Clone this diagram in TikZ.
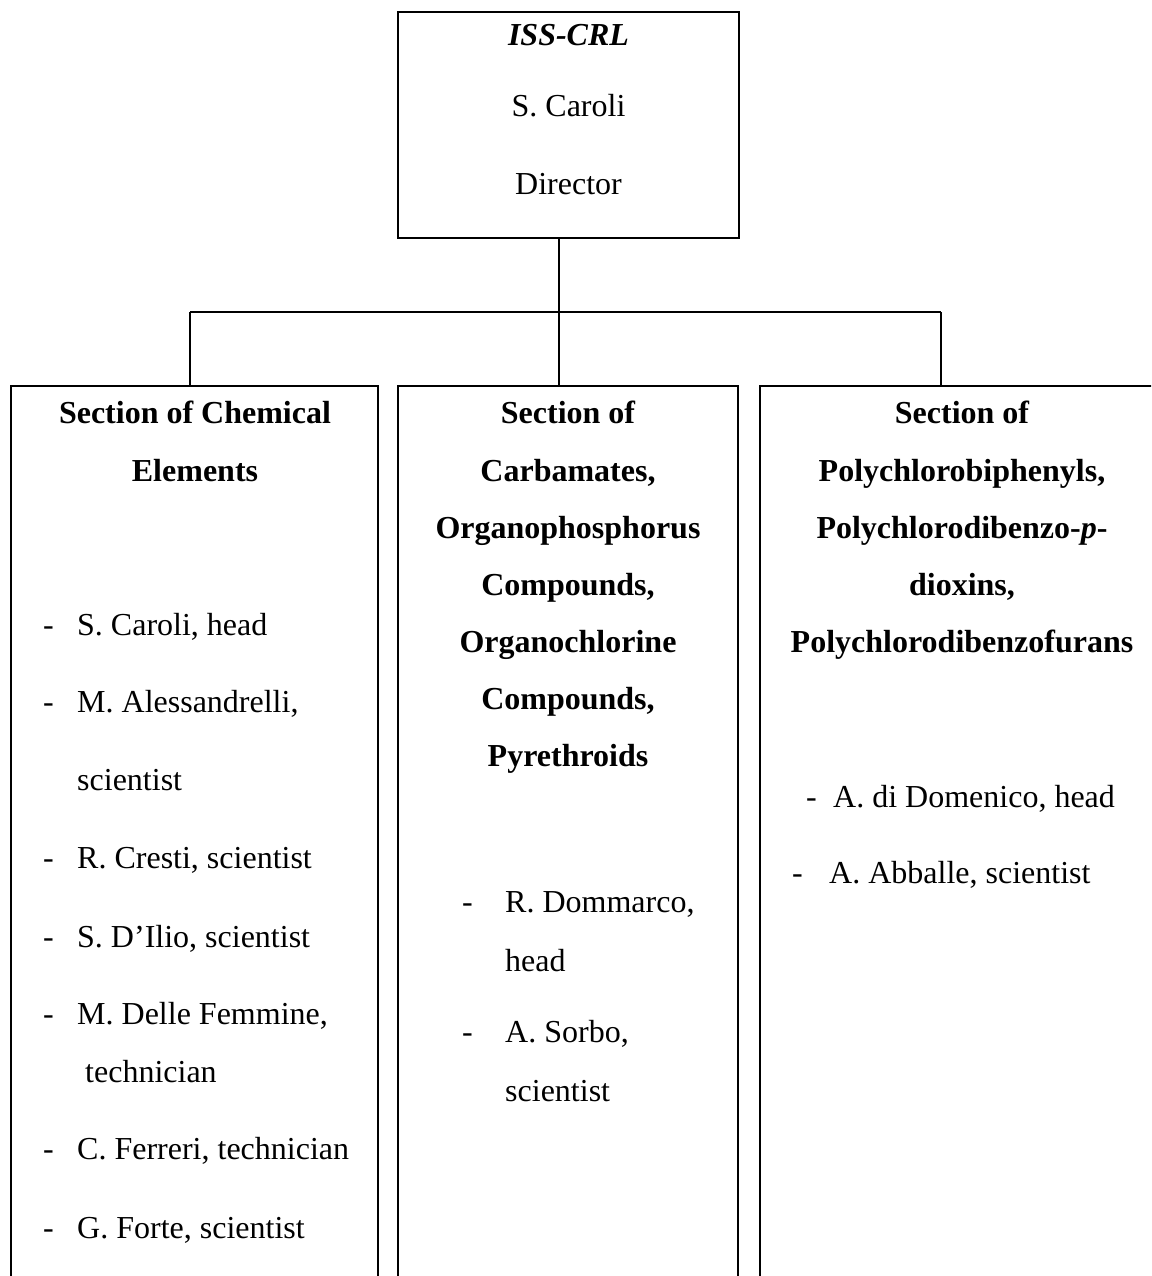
\documentclass[tikz,border=0pt]{standalone}
\usepackage{fontspec}
\setmainfont{Liberation Serif}
\begin{document}
\begin{tikzpicture}[x=1pt,y=-1pt,
  boxline/.style={line width=2.3pt},
  frame/.style={rectangle, inner sep=0, outer sep=0},
  hd/.style={anchor=base, inner sep=0, font=\fontsize{32}{38}\selectfont\bfseries},
  tx/.style={anchor=base west, inner sep=0, font=\fontsize{32}{38}\selectfont},
  txc/.style={anchor=base, inner sep=0, font=\fontsize{32}{38}\selectfont}]
\useasboundingbox (0,0) rectangle (1151,1276);
\clip (0,0) rectangle (1151,1276);
% top box
\node[frame, draw, boxline, minimum width=341pt, minimum height=226pt] (top) at (568.5,125) {};
\node[txc, font=\fontsize{32}{38}\selectfont\bfseries\itshape] (t1) at (568.5,46) {ISS-CRL};
\node[txc] (t2) at (568.5,117) {S. Caroli};
\node[txc] (t3) at (568.5,195) {Director};
% section frames (open at the bottom)
\node[frame, minimum width=367pt, minimum height=904pt] (s1) at (194.5,838) {};
\node[frame, minimum width=340pt, minimum height=904pt] (s2) at (568,838) {};
\node[frame, minimum width=410pt, minimum height=904pt] (s3) at (965,838) {};
\foreach \s in {s1,s2,s3}
  \draw[boxline] (\s.south west) -- (\s.north west) -- (\s.north east) -- (\s.south east);
% connectors
\coordinate (j) at (559,312);
\coordinate (jl) at (190,312);
\coordinate (jr) at (941,312);
\draw[boxline] (top.south -| j) -- (j);
\draw[boxline] (jl) -- (jr);
\draw[boxline] (jl) -- (jl |- s1.north);
\draw[boxline] (j) -- (j |- s2.north);
\draw[boxline] (jr) -- (jr |- s3.north);
% left section
\node[hd] (a1) at (195,423) {Section of Chemical};
\node[hd] (a2) at (195,481) {Elements};
\node[tx] (ad1) at (43,635) {-}; \node[tx] (al1) at (77,635) {S. Caroli, head};
\node[tx] (ad2) at (43,712) {-}; \node[tx] (al2) at (77,712) {M. Alessandrelli,};
\node[tx] (al2b) at (77,790) {scientist};
\node[tx] (ad3) at (43,868) {-}; \node[tx] (al3) at (77,868) {R. Cresti, scientist};
\node[tx] (ad4) at (43,947) {-}; \node[tx] (al4) at (77,947) {S. D’Ilio, scientist};
\node[tx] (ad5) at (43,1024) {-}; \node[tx] (al5) at (77,1024) {M. Delle Femmine,};
\node[tx] (al5b) at (85,1082) {technician};
\node[tx] (ad6) at (43,1159) {-}; \node[tx] (al6) at (77,1159) {C. Ferreri, technician};
\node[tx] (ad7) at (43,1238) {-}; \node[tx] (al7) at (77,1238) {G. Forte, scientist};
% middle section
\node[hd] (b1) at (568,423) {Section of};
\node[hd] (b2) at (568,481) {Carbamates,};
\node[hd] (b3) at (568,538) {Organophosphorus};
\node[hd] (b4) at (568,595) {Compounds,};
\node[hd] (b5) at (568,652) {Organochlorine};
\node[hd] (b6) at (568,709) {Compounds,};
\node[hd] (b7) at (568,766) {Pyrethroids};
\node[tx] (bd1) at (462,912) {-}; \node[tx] (bl1) at (505,912) {R. Dommarco,};
\node[tx] (bl1b) at (505,971) {head};
\node[tx] (bd2) at (462,1042) {-}; \node[tx] (bl2) at (505,1042) {A. Sorbo,};
\node[tx] (bl2b) at (505,1101) {scientist};
% right section
\node[hd] (c1) at (962,423) {Section of};
\node[hd] (c2) at (962,481) {Polychlorobiphenyls,};
\node[hd] (c3) at (962,538) {Polychlorodibenzo-\textit{p}-};
\node[hd] (c4) at (962,595) {dioxins,};
\node[hd] (c5) at (962,652) {Polychlorodibenzofurans};
\node[tx] (cd1) at (806,807) {-}; \node[tx] (cl1) at (833,807) {A. di Domenico, head};
\node[tx] (cd2) at (792,883) {-}; \node[tx] (cl2) at (829,883) {A. Abballe, scientist};
\end{tikzpicture}
\end{document}
